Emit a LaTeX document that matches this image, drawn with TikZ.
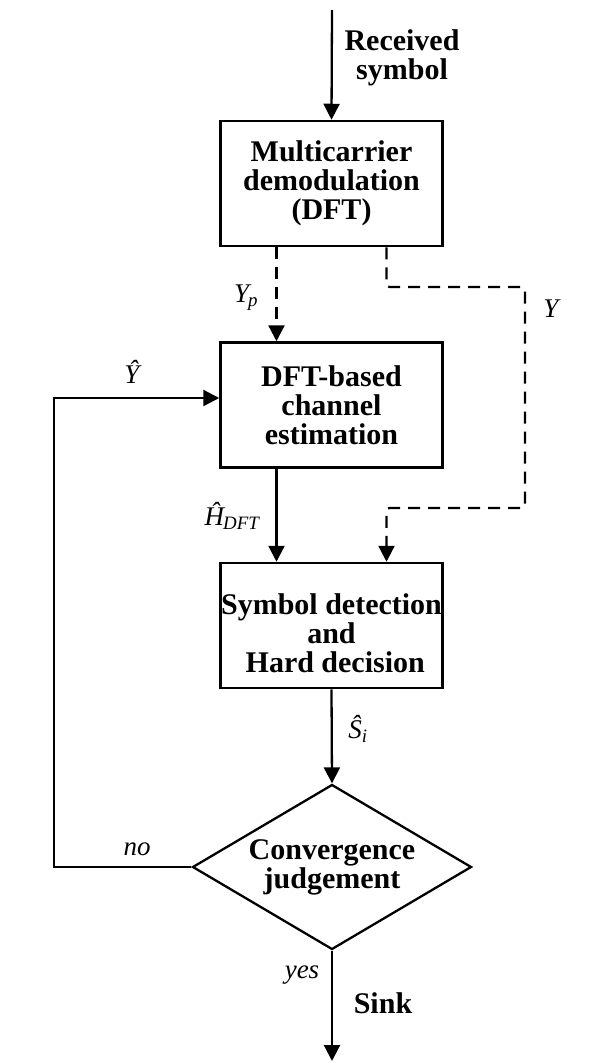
\documentclass[tikz,border=0pt]{standalone}
\usepackage{fontspec}
\setmainfont{Liberation Serif}
\usetikzlibrary{arrows.meta,shapes.geometric,calc}
\tikzset{
  blk/.style={draw, line width=2.5pt, inner sep=0pt, minimum width=222pt, minimum height=125pt},
  blktext/.style={align=center, inner sep=0pt, font=\bfseries\fontsize{30}{29}\selectfont},
  judge/.style={draw, line width=2.3pt, shape=diamond, aspect=1.69, inner sep=0pt,
    minimum width=279pt, minimum height=165pt, align=center,
    font=\bfseries\fontsize{30}{29}\selectfont},
  flow/.style={line width=2.3pt, -{Triangle[length=16pt,width=16pt]}},
  dflow/.style={line width=2.3pt, dash pattern=on 12pt off 8pt, -{Triangle[length=16pt,width=16pt]}},
  sym/.style={inner sep=0pt, font=\itshape\fontsize{27}{27}\selectfont},
  bold/.style={inner sep=0pt, align=center, font=\bfseries\fontsize{30}{29}\selectfont}
}
\begin{document}
\begin{tikzpicture}[x=1pt, y=-1pt]
\useasboundingbox (0,0) rectangle (604,1063);

% blocks
\node[blk] (b1) at (331.5,183.5) {};
\node[blktext] (t1) at (b1) {Multicarrier\\demodulation\\(DFT)};
\node[blk] (b2) at (331.5,405) {};
\node[blktext] (t2) at (b2) {DFT-based\\channel\\estimation};
\node[blk] (b3) at (331.5,625.5) {};
\node[blktext] (t3) at (331.5,633) {Symbol detection\\and\\\ Hard decision};
\node[judge] (dia) at (332,867) {Convergence\\judgement};

% free ends and bends
\coordinate (src) at (332,10);
\coordinate (snk) at (332,1061);
\coordinate (yr1) at (525,287);
\coordinate (yr2) at (525,508);
\coordinate (fbc) at (54,867);

% connectors
\draw[flow] (src) -- (b1.north);
\draw[dflow] ([xshift=-55pt]b1.south) -- ([xshift=-55pt]b2.north);
\draw[dflow, rounded corners=3pt] ([xshift=55pt]b1.south) |- (yr1) -- (yr2) -| ([xshift=55pt]b3.north);
\draw[flow] ([xshift=-55pt]b2.south) -- ([xshift=-55pt]b3.north);
\draw[flow] (b3.south) -- (dia.north);
\draw[flow] (dia.west) -- (fbc) |- ([yshift=7pt]b2.west);
\draw[flow] (dia.south) -- (snk);

% labels
\node[bold] (lrec) at (402,58) {Received\\symbol};
\node[sym] (lyp) at (246,298) {Y\textsubscript{\kern-1pt p}};
\node[sym] (ly) at (551,309) {Y};
\node[sym] (lyh) at (132,372) {Ŷ};
\node[sym] (lh) at (232,516) {Ĥ\textsubscript{\kern-1pt DFT}};
\node[sym] (ls) at (358,729) {Ŝ\textsubscript{i}};
\node[sym] (lno) at (137,849) {no};
\node[sym] (lyes) at (302,975) {yes};
\node[bold] (lsink) at (383,1003) {Sink};
\end{tikzpicture}
\end{document}
